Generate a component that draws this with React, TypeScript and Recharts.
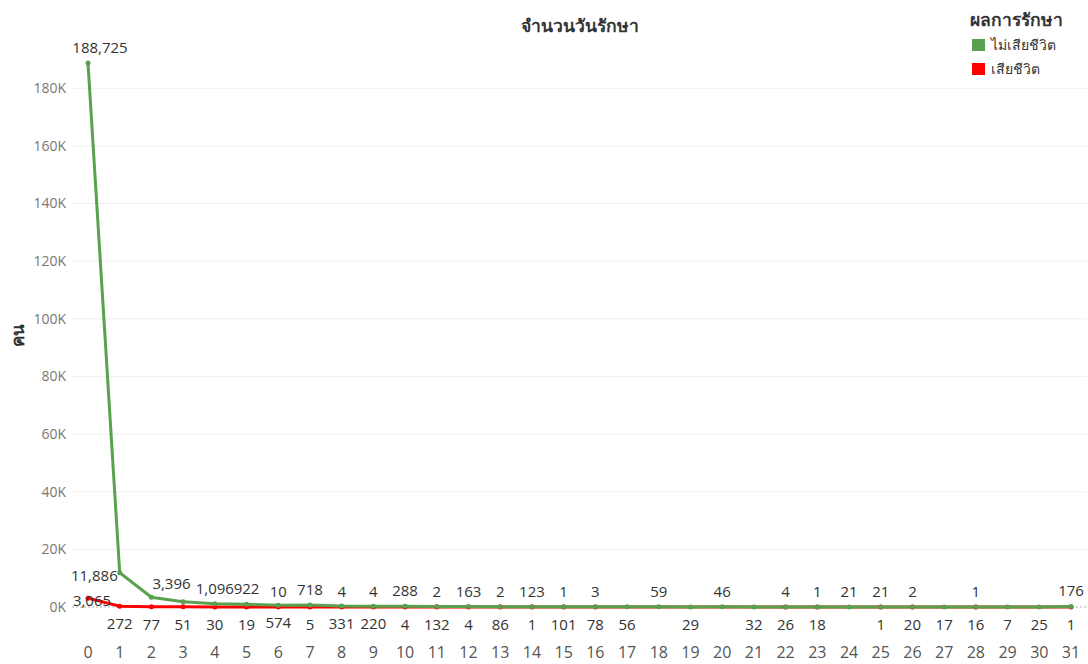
import React from 'react';
import { LineChart, Line, XAxis, YAxis, CartesianGrid, ReferenceLine } from 'recharts';

// Days of treatment (0..31)
const days: string[] = Array.from({ length: 32 }, (_, i) => String(i));

// Patients who survived, by days of treatment
const survived: number[] = [
  188725, 11886, 3396, 1800, 1096, 922, 574, 718, 331, 220, 288, 132, 163, 86, 123, 101,
  78, 56, 59, 29, 46, 32, 26, 18, 21, 21, 20, 17, 16, 7, 25, 176,
];

// Patients who died, by days of treatment (null = no record)
const died: (number | null)[] = [
  3065, 272, 77, 51, 30, 19, 10, 5, 4, 4, 4, 2, 4, 2, 1, 1,
  3, null, null, null, null, null, 4, 1, null, 1, 2, null, 1, null, null, 1,
];

const yTicks: number[] = [0, 20000, 40000, 60000, 80000, 100000, 120000, 140000, 160000, 180000];

const data = days.map((d, i) => ({ day: d, survived: survived[i], died: died[i] }));

type Place = 'top' | 'bottom' | 'hide' | { dx: number; dy: number; anchor: 'start' | 'middle' | 'end' };

// Label placement per point, chosen so neighbouring labels do not collide
const survivedPlace: Place[] = [
  { dx: 12, dy: -16, anchor: 'middle' },
  { dx: -2, dy: 2, anchor: 'end' },
  { dx: 1, dy: -14, anchor: 'start' },
  'hide', 'top', 'top', 'bottom', 'top', 'bottom', 'bottom', 'top', 'bottom', 'top', 'bottom', 'top', 'bottom',
  'bottom', 'bottom', 'top', 'bottom', 'top', 'bottom', 'bottom', 'bottom', 'top', 'top', 'bottom', 'bottom', 'bottom', 'bottom', 'bottom', 'top',
];
const diedPlace: Place[] = [
  { dx: 4, dy: 2, anchor: 'middle' },
  'bottom', 'bottom', 'bottom', 'bottom', 'bottom', 'top', 'bottom', 'top', 'top', 'bottom', 'top', 'bottom', 'top', 'bottom', 'top',
  'top', 'hide', 'hide', 'hide', 'hide', 'hide', 'top', 'top', 'hide', 'bottom', 'top', 'hide', 'top', 'hide', 'hide', 'bottom',
];

const FONT = '"Open Sans", "Noto Sans", sans-serif';
const GREEN = '#59A14F';
const RED = '#FF0000';

const makeLabel = (places: Place[]) => (props: any) => {
  const { x, y, value, index } = props;
  if (value === null || value === undefined) return null;
  const p = places[index];
  if (!p || p === 'hide') return null;
  let dx = 0;
  let dy = 0;
  let anchor: 'start' | 'middle' | 'end' = 'middle';
  if (p === 'top') dy = -16;
  else if (p === 'bottom') dy = 17;
  else {
    dx = p.dx;
    dy = p.dy;
    anchor = p.anchor;
  }
  return (
    <text
      key={`lbl-${index}`}
      x={x + dx}
      y={y + dy}
      textAnchor={anchor}
      dominantBaseline="central"
      fontSize={15}
      fontFamily={FONT}
      fill="#333"
    >
      {Number(value).toLocaleString('en-US')}
    </text>
  );
};

export default function App() {
  return (
    <div style={{ position: 'absolute', left: 0, top: 0, width: 1088, height: 664, background: '#fff', fontFamily: FONT }}>
      <LineChart
        width={1088}
        height={664}
        data={data}
        margin={{ top: 45, right: 1, bottom: 0, left: 0 }}
      >
        <CartesianGrid
          vertical={false}
          horizontalValues={yTicks.filter((t) => t > 0)}
          stroke="#efefef"
        />
        <XAxis
          dataKey="day"
          type="category"
          height={57}
          padding={{ left: 16, right: 16 }}
          axisLine={false}
          tickLine={false}
          tickSize={38}
          tickMargin={2}
          interval={0}
          tick={{ fontSize: 16, fill: '#555', fontFamily: FONT }}
        />
        <YAxis
          width={72}
          domain={[0, 195000]}
          ticks={yTicks}
          axisLine={false}
          tickLine={false}
          tickSize={4}
          tickMargin={2}
          tickFormatter={(v: number) => `${v / 1000}K`}
          tick={{ fontSize: 14, fill: '#777', fontFamily: FONT }}
        />
        <ReferenceLine y={0} stroke="#b0b0b0" strokeDasharray="2 2" />
        <Line
          dataKey="died"
          stroke={RED}
          strokeWidth={3}
          connectNulls
          isAnimationActive={false}
          dot={{ r: 2.5, fill: RED, stroke: RED, strokeWidth: 0 }}
          label={makeLabel(diedPlace)}
        />
        <Line
          dataKey="survived"
          stroke={GREEN}
          strokeWidth={3}
          isAnimationActive={false}
          dot={{ r: 2.5, fill: GREEN, stroke: GREEN, strokeWidth: 0 }}
          label={makeLabel(survivedPlace)}
        />
      </LineChart>

      {/* column header */}
      <div style={{ position: 'absolute', left: 72, width: 1015, top: 12, textAlign: 'center', fontSize: 17.5, fontWeight: 700, color: '#333' }}>
        จำนวนวันรักษา
      </div>

      {/* y-axis title */}
      <div
        style={{
          position: 'absolute',
          left: 17,
          top: 335,
          transform: 'translate(-50%, -50%) rotate(-90deg)',
          fontSize: 17,
          fontWeight: 700,
          color: '#333',
          whiteSpace: 'nowrap',
        }}
      >
        คน
      </div>

      {/* legend */}
      <div style={{ position: 'absolute', left: 970, top: 6, fontSize: 17.5, fontWeight: 700, color: '#333', whiteSpace: 'nowrap' }}>
        ผลการรักษา
      </div>
      <div style={{ position: 'absolute', left: 972, top: 34, display: 'flex', alignItems: 'center', fontSize: 14, color: '#333', whiteSpace: 'nowrap' }}>
        <span style={{ display: 'inline-block', width: 13, height: 12, background: GREEN, marginRight: 6 }} />
        ไม่เสียชีวิต
      </div>
      <div style={{ position: 'absolute', left: 972, top: 58, display: 'flex', alignItems: 'center', fontSize: 14, color: '#333', whiteSpace: 'nowrap' }}>
        <span style={{ display: 'inline-block', width: 13, height: 12, background: RED, marginRight: 6 }} />
        เสียชีวิต
      </div>
    </div>
  );
}
